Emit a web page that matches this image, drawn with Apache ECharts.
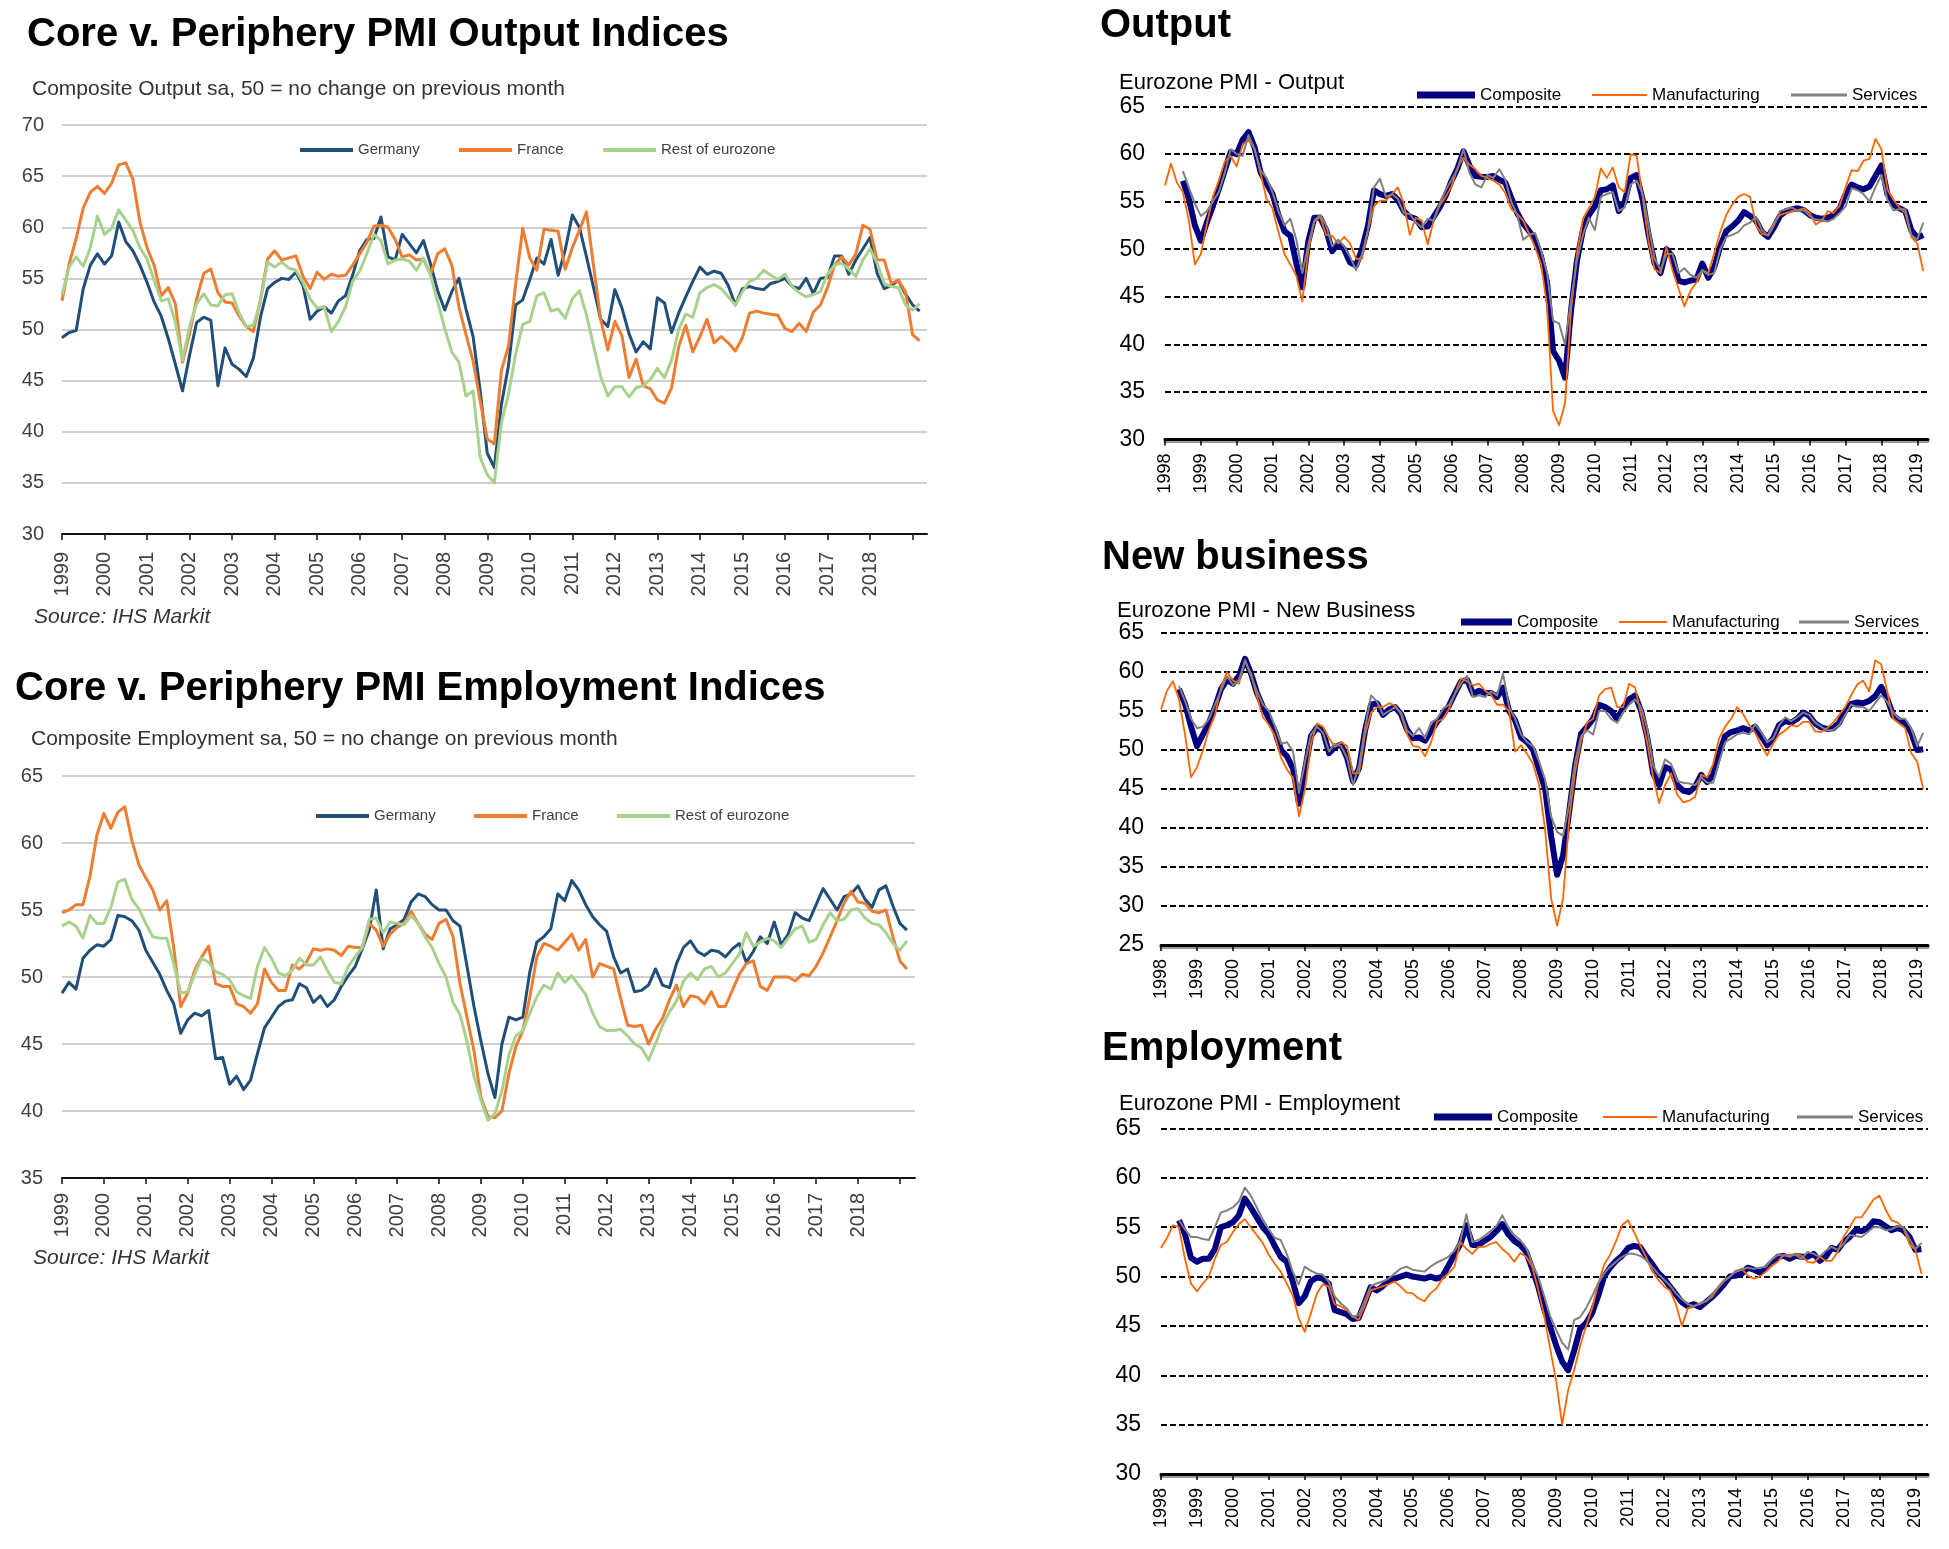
<!DOCTYPE html>
<html><head><meta charset="utf-8">
<script src="https://cdn.jsdelivr.net/npm/echarts@6/dist/echarts.min.js"></script>
<style>html,body{margin:0;padding:0;background:#fff}#c{width:1949px;height:1549px}</style>
</head><body><div id="c"></div>
<script>
// ---------- tick labels ----------
const CORE_TICKS = [1999,2000,2001,2002,2003,2004,2005,2006,2007,2008,2009,2010,2011,2012,2013,2014,2015,2016,2017,2018,2019];
const CORE_LABELS = [1999,2000,2001,2002,2003,2004,2005,2006,2007,2008,2009,2010,2011,2012,2013,2014,2015,2016,2017,2018];
const EZ_TICKS = [1998,1999,2000,2001,2002,2003,2004,2005,2006,2007,2008,2009,2010,2011,2012,2013,2014,2015,2016,2017,2018,2019];

// ---------- data: bimonthly readings (Jan, Mar, May, Jul, Sep, Nov) ----------
const CORE_START = 1999;   // left charts start Jan 1999
const EZ_START = 1998;     // right charts start Jan 1998

// Core v. Periphery – Composite Output
const GER_OUT = [
49.2,49.7,49.9,54.0,56.3,57.4, 56.4,57.2,60.5,58.6,57.7,56.3, 54.6,52.7,51.3,49.1,46.6,44.0,
47.5,50.7,51.2,50.9,44.5,48.2, 46.6,46.1,45.4,47.2,51.2,54.0, 54.6,55.0,54.9,55.6,54.3,51.0,
51.8,52.2,51.6,52.8,53.3,55.3, 57.7,58.8,58.9,61.0,57.1,56.8, 59.3,58.4,57.5,58.7,56.4,53.8,
51.9,53.7,55.0,52.0,49.3,44.0, 37.9,36.5,42.7,46.5,52.4,52.9, 54.9,57.0,56.4,58.8,55.3,57.8,
61.2,60.0,57.1,54.1,51.0,50.3, 53.9,52.1,49.6,47.8,48.8,48.1, 53.1,52.6,49.7,51.6,53.2,54.7,
56.1,55.4,55.7,55.5,54.3,52.4, 54.0,54.2,54.0,53.9,54.5,54.7, 55.0,54.2,54.0,55.0,53.5,55.0,
55.1,57.2,57.2,55.4,56.8,57.9, 59.0,55.5,54.0,54.3,54.8,53.5, 52.4,51.8];
const FRA_OUT = [
52.8,56.4,58.9,61.9,63.4,64.0, 63.3,64.3,66.1,66.3,64.7,60.5, 58.0,56.3,53.3,54.1,52.5,46.8,
49.6,53.0,55.5,55.9,53.6,52.7, 52.6,51.3,50.3,49.8,52.9,56.9, 57.7,56.8,57.0,57.2,55.2,54.0,
55.6,54.9,55.4,55.2,55.3,56.3, 57.4,58.5,60.1,60.2,60.0,58.8, 57.1,57.3,56.8,56.9,55.4,57.4,
57.9,56.3,52.2,49.5,46.9,43.0, 39.3,38.8,46.0,48.4,54.4,59.9, 57.0,55.8,59.8,59.7,59.6,55.9,
58.0,59.7,61.5,56.2,51.0,48.0, 50.8,49.4,45.3,47.1,44.5,44.2, 43.1,42.8,44.3,48.3,50.4,47.8,
49.3,51.0,48.7,49.3,48.7,47.9, 49.2,51.6,51.8,51.6,51.5,51.4, 50.1,49.8,50.6,49.8,51.7,52.4,
54.1,56.3,57.1,56.3,57.4,60.2, 59.8,56.8,56.8,54.5,54.8,53.7, 49.5,48.9];
const ROE_OUT = [
53.4,56.1,57.1,56.2,58.0,61.1, 59.3,59.9,61.7,60.7,59.7,58.0, 56.9,54.8,52.8,53.0,50.7,47.0,
50.3,52.5,53.5,52.4,52.3,53.4, 53.5,51.6,50.3,50.4,52.7,56.6, 56.1,56.6,56.0,55.8,54.6,53.0,
52.1,52.2,49.8,50.8,52.2,54.7, 55.7,57.4,59.3,58.7,56.4,56.8, 56.9,56.7,55.8,57.0,55.3,52.7,
50.1,47.8,46.8,43.5,44.0,37.5, 35.8,35.0,40.9,43.7,47.6,50.5, 50.8,53.3,53.6,51.8,52.0,51.1,
53.0,53.8,51.4,48.4,45.4,43.5, 44.4,44.4,43.4,44.3,44.5,45.1, 46.2,45.3,47.0,50.0,51.5,51.2,
53.6,54.1,54.4,54.0,53.2,52.4, 53.7,54.7,55.0,55.8,55.3,54.9, 55.4,54.2,53.6,53.2,53.4,53.7,
55.4,56.3,56.5,55.9,55.2,56.8, 57.9,56.5,54.5,54.2,54.1,52.4, 51.9,52.5];

// Core v. Periphery – Composite Employment
const GER_EMP = [
48.8,49.6,49.1,51.4,52.0,52.4, 52.3,52.8,54.6,54.5,54.2,53.5, 52.0,51.1,50.2,49.0,48.0,45.8,
46.8,47.3,47.1,47.5,43.9,44.0, 42.0,42.6,41.6,42.3,44.3,46.2, 47.0,47.8,48.2,48.3,49.5,49.2,
48.1,48.6,47.8,48.3,49.3,50.1, 50.8,52.1,53.5,56.5,52.1,53.6, 53.9,54.3,55.6,56.2,56.0,55.4,
55.0,55.0,54.2,53.8,50.8,47.8, 45.2,42.8,41.0,45.0,47.0,46.8, 47.0,50.4,52.6,53.0,53.6,56.2,
55.7,57.2,56.5,55.4,54.5,53.9, 53.4,51.5,50.3,50.6,48.9,49.0, 49.4,50.6,49.4,49.2,51.0,52.2,
52.7,51.9,51.6,52.0,51.9,51.5, 52.1,52.5,51.1,51.9,53.0,52.5, 54.1,52.4,53.2,54.8,54.4,54.2,
55.4,56.6,55.8,55.0,56.0,56.2, 56.8,55.8,55.2,56.5,56.8,55.3, 54.0,53.5];
const FRA_EMP = [
54.8,55.0,55.4,55.4,57.5,60.6, 62.2,61.1,62.3,62.7,60.2,58.4, 57.4,56.5,55.0,55.7,52.2,47.8,
48.8,50.5,51.5,52.3,49.5,49.3, 49.3,48.0,47.8,47.3,48.0,50.6, 49.6,49.0,49.0,50.9,50.6,51.1,
52.1,52.0,52.1,52.0,51.6,52.3, 52.2,52.2,54.0,53.5,52.3,53.2, 53.7,54.0,54.9,54.0,53.2,52.8,
54.0,54.3,53.0,49.5,47.0,44.5, 41.0,39.6,39.5,40.0,42.8,44.8, 46.0,48.5,51.5,52.5,52.3,52.0,
52.6,53.2,52.0,52.8,50.0,51.0, 50.8,50.6,48.4,46.4,46.3,46.4, 45.0,46.1,46.9,48.3,49.4,47.8,
48.6,48.5,48.0,48.9,47.8,47.8, 49.0,50.2,51.0,51.2,49.3,49.0, 50.0,50.0,50.0,49.7,50.2,50.1,
50.8,51.8,53.0,54.2,55.5,56.4, 55.6,55.5,54.9,54.8,55.0,53.0, 51.2,50.6];
const ROE_EMP = [
53.8,54.1,53.8,52.9,54.6,54.0, 54.0,55.2,57.1,57.3,55.8,55.1, 54.0,53.0,52.9,52.9,51.0,48.8,
48.9,50.2,51.4,51.1,50.4,50.2, 49.8,48.9,48.6,48.4,50.8,52.2, 51.4,50.3,50.1,50.5,51.4,50.9,
50.9,51.5,50.5,49.6,49.5,50.8, 51.5,52.2,54.3,54.4,53.3,54.1, 54.0,53.9,54.6,54.0,53.0,52.2,
51.0,50.0,48.1,47.2,45.2,42.6, 40.8,39.3,39.8,41.5,44.2,45.6, 46.0,47.3,48.5,49.4,49.1,50.3,
49.6,50.1,49.4,48.7,47.3,46.3, 46.0,46.0,46.1,45.6,45.0,44.7, 43.8,45.0,46.4,47.4,48.2,49.7,
50.3,49.8,50.6,50.8,50.0,50.3, 51.0,51.7,53.3,52.3,52.6,52.9, 52.7,52.2,52.9,53.6,53.8,52.6,
52.8,53.9,54.8,54.2,54.3,55.0, 55.1,54.4,54.0,53.9,53.3,52.5, 52.0,52.7];

// Eurozone PMI – Output
const EZ_OUT_COMP = [
null,null,null,57.2,55.3,52.5, 50.9,52.8,54.5,56.3,58.3,60.2, 60.0,61.5,62.3,60.7,58.1,56.9,
55.8,53.6,51.9,51.4,48.5,46.0, 50.8,53.3,53.3,52.0,49.8,50.6, 50.0,48.6,48.3,50.0,52.5,56.2,
55.8,55.6,55.8,55.2,54.0,53.4, 53.2,52.3,52.4,53.4,54.4,55.6, 57.2,58.5,60.3,58.8,57.7,57.6,
57.6,57.7,57.3,57.0,55.4,53.8, 52.7,51.9,51.0,49.2,46.5,39.3, 38.3,36.5,43.5,48.8,52.0,53.6,
54.5,56.2,56.3,56.7,54.0,55.0, 57.5,57.8,55.2,51.5,48.5,47.5, 50.0,49.2,46.7,46.5,46.7,46.8,
48.5,47.0,48.1,50.3,51.9,52.4, 53.0,53.9,53.5,53.0,51.8,51.3, 52.3,53.5,54.0,54.2,54.3,54.1,
53.6,53.3,53.2,53.3,53.6,54.3, 55.8,56.8,56.5,56.3,56.6,57.7, 58.8,55.8,54.7,54.3,54.0,52.0,
51.2,51.5];
const EZ_OUT_MAN = [
56.7,59.0,57.0,56.0,53.0,48.4, 49.5,52.6,55.5,57.2,59.2,59.8, 58.7,61.0,61.5,60.6,58.0,55.3,
54.3,51.8,49.5,48.4,47.2,44.5, 49.8,52.9,53.4,51.5,51.4,50.6, 51.3,50.6,49.0,49.0,52.0,54.5,
55.1,55.1,55.8,56.5,54.8,51.5, 53.3,53.0,50.5,53.0,54.6,55.5, 56.6,58.6,59.6,58.9,58.4,57.7,
57.5,57.2,56.8,55.9,54.2,53.7, 53.0,51.6,50.2,48.4,44.0,33.0, 31.5,33.8,43.5,49.5,53.2,54.3,
55.5,58.5,57.5,58.6,56.5,56.0, 60.0,59.8,55.5,50.8,47.9,47.5, 50.2,47.8,45.9,44.0,45.6,46.5,
47.8,47.5,49.6,51.8,53.6,54.7, 55.5,55.8,55.5,52.5,51.6,51.5, 52.7,53.6,53.8,54.0,54.1,54.3,
53.8,52.6,53.0,54.0,53.8,54.6, 56.5,58.3,58.2,59.3,59.5,61.6, 60.5,56.3,55.2,54.4,53.8,51.3,
50.6,47.7];
const EZ_OUT_SRV = [
null,null,null,58.2,56.5,54.8, 53.5,54.0,55.0,56.0,58.0,60.5, 60.0,59.8,62.0,60.5,58.3,57.5,
56.0,54.0,52.5,53.2,51.0,47.5, 50.5,53.0,53.6,52.5,50.3,51.0, 50.3,49.2,47.8,49.5,52.0,56.5,
57.4,55.5,55.8,55.3,53.8,53.7, 52.8,52.3,53.2,53.0,54.8,56.2, 57.3,58.4,60.5,58.0,56.8,56.5,
57.8,57.5,58.4,57.3,55.0,53.6, 51.0,51.5,51.7,49.8,47.5,42.5, 42.2,40.0,44.5,48.8,51.5,53.3,
52.0,55.5,55.8,56.0,54.0,54.4, 56.8,57.2,55.8,52.5,49.0,47.8, 49.5,49.5,47.5,48.0,47.3,47.0,
47.8,47.3,47.5,50.0,51.3,51.5, 51.8,52.5,52.8,53.4,52.0,51.4, 52.5,54.0,54.2,54.4,54.0,54.1,
53.5,53.1,53.1,52.9,53.2,53.8, 54.5,56.4,56.2,55.8,55.0,56.5, 57.8,55.2,54.1,54.2,54.2,51.5,
51.0,52.8];

// Eurozone PMI – New Business
const EZ_NB_COMP = [
null,null,null,57.8,55.9,53.0, 50.5,52.0,53.5,55.5,57.8,59.0, 58.5,59.5,61.7,59.8,57.3,55.5,
54.0,52.4,50.0,49.2,47.6,43.1, 47.5,51.8,52.9,52.4,49.6,50.4, 50.7,49.0,46.0,47.7,52.5,55.8,
56.0,54.5,55.2,55.5,54.6,52.6, 51.5,51.6,51.2,52.5,53.6,54.5, 55.7,57.3,58.8,59.0,57.2,57.6,
57.3,57.3,56.8,58.0,55.0,53.8, 51.6,51.0,50.0,47.5,45.0,39.0, 34.0,36.5,42.0,48.0,52.1,53.0,
54.0,55.8,55.5,55.0,54.0,55.4, 56.5,57.0,55.0,51.7,47.0,45.5, 47.8,47.5,45.5,44.8,44.6,45.3,
46.8,45.9,46.8,49.5,51.8,52.3, 52.5,52.8,52.5,53.0,51.8,50.6, 51.5,53.2,53.7,53.5,54.0,54.8,
54.4,53.4,52.9,52.7,52.8,53.5, 55.0,55.9,56.1,56.0,56.3,56.9, 58.1,56.6,54.4,53.8,53.5,52.2,
50.0,50.1];
const EZ_NB_MAN = [
55.2,57.6,58.8,56.5,52.0,46.5, 47.8,50.0,52.6,54.5,58.0,60.0, 58.9,58.5,61.5,59.8,56.8,54.2,
53.2,51.8,49.0,47.5,46.4,41.5, 45.0,50.8,53.4,53.0,51.5,50.4, 51.0,50.5,47.0,47.0,52.0,54.8,
55.5,55.5,56.0,55.7,54.6,52.0, 50.5,50.4,49.2,51.0,53.6,54.0, 55.3,57.3,59.2,58.8,58.3,58.5,
57.6,57.1,55.8,55.8,55.0,49.8, 50.6,49.5,48.2,45.5,39.8,31.0, 27.5,31.0,41.0,47.2,51.2,53.5,
54.0,57.0,57.8,58.0,55.5,55.5, 58.5,58.0,54.5,51.0,46.5,43.2, 45.5,47.0,44.3,43.3,43.5,44.0,
46.8,46.5,48.2,51.5,53.0,54.0, 55.5,54.6,53.2,52.2,50.6,49.3, 50.8,52.0,52.5,53.2,53.0,53.6,
53.6,52.4,52.3,52.8,53.5,54.5, 55.5,57.0,58.4,58.9,57.5,61.5, 61.0,57.5,54.0,53.4,52.8,49.6,
48.5,45.0];
const EZ_NB_SRV = [
null,null,null,58.2,56.3,54.0, 52.8,53.0,54.0,55.8,57.6,59.5, 58.3,59.0,61.5,59.5,57.5,55.8,
55.0,53.0,50.8,51.0,49.8,44.5, 48.5,52.0,53.0,52.2,49.8,50.8, 50.5,49.0,45.5,48.0,52.8,57.0,
56.2,54.5,55.0,55.5,54.8,52.5, 51.8,52.8,51.5,53.5,54.0,55.3, 55.8,57.2,58.5,59.5,56.8,57.0,
56.8,57.5,57.0,59.8,55.5,54.0, 52.0,51.0,50.5,48.5,46.2,41.5, 39.5,39.0,43.0,48.5,51.8,52.5,
52.0,55.0,55.0,54.0,53.5,54.8, 55.8,56.5,55.5,52.8,48.0,46.5, 48.8,48.2,46.0,45.8,45.7,45.5,
46.5,45.8,45.8,48.5,51.0,51.5, 52.0,52.2,52.0,53.3,52.3,51.0, 51.5,53.2,54.2,53.7,54.2,54.8,
54.5,53.5,53.0,52.5,52.6,53.2, 54.5,55.8,55.5,55.5,55.0,56.0, 57.0,56.2,54.8,54.0,54.0,52.8,
50.5,52.2];

// Eurozone PMI – Employment
const EZ_EMP_COMP = [
null,null,null,55.7,54.3,51.9, 51.5,51.8,51.8,52.8,55.0,55.2, 55.5,56.2,57.9,57.0,56.0,55.0,
54.3,53.1,52.0,51.5,49.5,47.3, 48.0,49.5,49.9,49.8,49.3,46.6, 46.4,46.2,45.7,45.8,47.3,48.9,
48.6,49.0,49.6,49.8,50.0,50.2, 50.0,49.9,49.8,50.0,49.8,50.0, 51.1,52.2,53.3,55.2,53.2,53.2,
53.6,54.0,54.6,55.3,54.3,53.6, 53.2,52.5,50.8,49.0,46.7,44.9, 43.0,41.4,40.5,42.5,44.7,45.3,
46.3,48.0,50.0,50.9,51.6,52.1, 52.9,53.1,53.0,52.1,51.3,50.4, 49.8,49.0,48.2,47.4,47.0,47.2,
46.9,47.4,47.9,48.5,49.2,50.0, 50.1,50.3,50.9,50.7,50.4,50.8, 51.4,52.0,52.1,51.8,52.1,52.0,
52.0,52.3,51.6,52.0,52.9,52.7, 53.5,54.0,54.7,54.6,54.9,55.6, 55.5,55.1,54.7,54.9,54.7,54.0,
52.7,52.8];
const EZ_EMP_MAN = [
52.9,53.9,55.2,55.0,51.8,49.3, 48.5,49.3,50.0,51.8,53.2,53.5, 54.5,55.3,55.8,55.0,54.2,53.4,
52.2,51.3,50.5,49.3,48.1,45.8, 44.4,46.2,48.2,49.2,49.0,47.2, 47.0,46.6,46.0,45.6,47.0,48.6,
48.8,49.0,49.2,49.5,49.0,48.4, 48.3,47.8,47.5,48.3,48.8,49.8, 50.3,51.0,53.5,52.8,52.3,53.0,
53.0,53.3,53.5,52.8,52.3,51.5, 52.4,52.0,51.0,48.7,46.0,42.7, 39.4,35.0,38.5,40.5,43.0,45.0,
46.8,49.2,51.2,52.2,53.6,55.2, 55.7,54.5,53.2,52.0,50.6,49.7, 49.0,48.6,47.2,45.0,46.8,47.0,
47.2,47.5,47.9,48.8,49.5,50.0, 50.5,50.8,50.1,49.8,50.0,50.5, 51.1,51.5,52.2,52.0,52.3,52.1,
51.5,51.4,52.0,51.6,51.6,52.5, 54.0,55.0,56.0,56.0,56.9,57.8, 58.2,56.8,55.7,55.5,54.9,53.3,
52.7,50.3];
const EZ_EMP_SRV = [
null,null,null,55.7,54.8,54.0, 54.0,53.8,53.7,55.0,56.5,56.7, 57.0,57.6,59.0,58.2,57.0,55.8,
54.8,53.9,53.7,52.3,50.5,49.2, 51.0,50.6,50.3,50.2,49.5,48.0, 47.3,46.8,45.9,46.1,47.5,49.0,
49.3,49.5,49.8,50.3,50.8,51.0, 50.7,50.6,50.5,51.0,51.4,51.7, 52.0,52.6,53.6,56.3,53.5,53.7,
54.1,54.6,55.1,56.2,55.0,54.2, 53.7,52.9,51.3,50.0,48.0,46.0, 44.6,43.3,42.6,45.6,45.9,46.8,
48.0,49.3,50.3,51.0,51.5,52.0, 52.3,52.3,52.1,51.7,51.0,50.3, 49.7,49.1,48.3,47.7,47.2,47.0,
47.3,47.5,48.1,48.9,49.6,50.0, 50.6,50.7,50.9,50.8,50.9,51.0, 51.7,52.2,52.1,52.2,52.2,51.8,
52.5,52.3,52.0,52.6,53.0,52.7, 53.3,54.2,54.1,54.0,54.5,55.0, 55.0,54.7,54.8,55.1,55.0,53.8,
52.8,53.4];

// ---------- rendering ----------
const FONT = '"Liberation Sans", Arial, Helvetica, sans-serif';
const C_GER = '#1F4E79', C_FRA = '#ED7D31', C_ROE = '#A9D18E';
const C_COMP = '#000080', C_MAN = '#FF6600', C_SRV = '#808080';

function pts(arr, start) { return arr.map((v, i) => [start + i / 6, v]); }
function line(name, arr, start, idx, color, width, z) {
  return { name, type: 'line', xAxisIndex: idx, yAxisIndex: idx, data: pts(arr, start),
    showSymbol: false, symbol: 'none', color, lineStyle: { color, width, join: 'round' },
    z, animation: false, silent: true, connectNulls: false };
}
function title(text, left, top, size, opts) {
  return Object.assign({ text, left, top, padding: 0,
    textStyle: { fontFamily: FONT, fontSize: size, fontWeight: 'bold', color: '#000' } }, opts || {});
}
function sub(text, left, top, size, color, style) {
  return { text, left, top, padding: 0,
    textStyle: { fontFamily: FONT, fontSize: size, fontWeight: 'normal', fontStyle: style || 'normal', color } };
}
function leg(name, x, cy, w, h, color, fs, tc) {
  return { data: [name], left: x, top: cy - fs / 2, itemWidth: w, itemHeight: h, icon: 'rect',
    itemGap: 0, padding: 0, selectedMode: false, itemStyle: { color, borderWidth: 0 },
    textStyle: { fontFamily: FONT, fontSize: fs, color: tc } };
}
function coreX(gi, max, margin) {
  return { type: 'value', gridIndex: gi, min: 1999, max,
    axisLine: { show: true, onZero: false, lineStyle: { color: '#111', width: 2 } },
    axisTick: { show: true, length: 6, customValues: CORE_TICKS, lineStyle: { color: '#111', width: 1.5 } },
    axisLabel: { customValues: CORE_LABELS, rotate: 90, margin, fontSize: 20, fontFamily: FONT, color: '#404040',
      formatter: v => String(v) },
    splitLine: { show: false } };
}
function coreY(gi, min, max, margin) {
  return { type: 'value', gridIndex: gi, min, max, interval: 5,
    axisLine: { show: false }, axisTick: { show: false },
    axisLabel: { margin, fontSize: 20, fontFamily: FONT, color: '#404040' },
    splitLine: { show: true, lineStyle: { color: '#c0c0c0', width: 1.6 } } };
}
function ezX(gi, max) {
  return { type: 'value', gridIndex: gi, min: 1998, max,
    axisLine: { show: true, onZero: false, lineStyle: { color: '#000', width: 3, shadowColor: '#999', shadowOffsetY: 2 } },
    axisTick: { show: true, length: 6, customValues: EZ_TICKS, lineStyle: { color: '#000', width: 1.5 } },
    axisLabel: { customValues: EZ_TICKS, rotate: 90, margin: 14, fontSize: 18, fontFamily: FONT, color: '#000',
      formatter: v => String(v) },
    splitLine: { show: false } };
}
function ezY(gi, min, max, margin) {
  return { type: 'value', gridIndex: gi, min, max, interval: 5,
    axisLine: { show: false }, axisTick: { show: false },
    axisLabel: { margin, fontSize: 23, fontFamily: FONT, color: '#000' },
    splitLine: { show: true, lineStyle: { color: '#000', width: 2, type: [6, 3] } } };
}

const option = {
  backgroundColor: '#fff',
  animation: false,
  title: [
    title('Core v. Periphery PMI Output Indices', 27, 15, 40),
    sub('Composite Output sa, 50 = no change on previous month', 32, 79, 21, '#333'),
    sub('Source: IHS Markit', 34, 607, 21, '#333', 'italic'),
    title('Core v. Periphery PMI Employment Indices', 15, 669, 40),
    sub('Composite Employment sa, 50 = no change on previous month', 31, 729, 21, '#333'),
    sub('Source: IHS Markit', 33, 1248, 21, '#333', 'italic'),
    title('Output', 1100, 6, 40),
    sub('Eurozone PMI - Output', 1119, 72, 22, '#000'),
    title('New business', 1102, 538, 40),
    sub('Eurozone PMI - New Business', 1117, 600, 22, '#000'),
    title('Employment', 1102, 1029, 40),
    sub('Eurozone PMI - Employment', 1119, 1093, 22, '#000')
  ],
  legend: [
    leg('Germany', 300, 150, 53, 4, C_GER, 15, '#404040'),
    leg('France', 459, 150, 53, 4, C_FRA, 15, '#404040'),
    leg('Rest of eurozone', 603, 150, 53, 4, C_ROE, 15, '#404040'),
    leg('Germany', 316, 816, 53, 4, C_GER, 15, '#404040'),
    leg('France', 474, 816, 53, 4, C_FRA, 15, '#404040'),
    leg('Rest of eurozone', 617, 816, 53, 4, C_ROE, 15, '#404040'),
    leg('Composite', 1417, 95, 58, 7, C_COMP, 17, '#000'),
    leg('Manufacturing', 1592, 95, 55, 2, C_MAN, 17, '#000'),
    leg('Services', 1791, 95, 56, 3, C_SRV, 17, '#000'),
    leg('Composite', 1461, 622, 51, 7, C_COMP, 17, '#000'),
    leg('Manufacturing', 1619, 622, 48, 2, C_MAN, 17, '#000'),
    leg('Services', 1799, 622, 50, 3, C_SRV, 17, '#000'),
    leg('Composite', 1434, 1117, 58, 7, C_COMP, 17, '#000'),
    leg('Manufacturing', 1603, 1117, 54, 2, C_MAN, 17, '#000'),
    leg('Services', 1797, 1117, 56, 3, C_SRV, 17, '#000')
  ],
  grid: [
    { left: 62, top: 125, width: 865, height: 409 },
    { left: 62, top: 776, width: 853, height: 402 },
    { left: 1165, top: 106.5, width: 763, height: 333 },
    { left: 1161, top: 633, width: 767, height: 312 },
    { left: 1161, top: 1128.5, width: 767, height: 345.5 }
  ],
  xAxis: [ coreX(0, 2019.34, 18), coreX(1, 2019.36, 15), ezX(2, 2019.3), ezX(3, 2019.3), ezX(4, 2019.35) ],
  yAxis: [ coreY(0, 30, 70, 18), coreY(1, 35, 65, 19), ezY(2, 30, 65, 20), ezY(3, 25, 65, 17), ezY(4, 30, 65, 20) ],
  series: [
    line('Germany', GER_OUT, CORE_START, 0, C_GER, 3, 2),
    line('France', FRA_OUT, CORE_START, 0, C_FRA, 3, 3),
    line('Rest of eurozone', ROE_OUT, CORE_START, 0, C_ROE, 3, 4),
    line('Germany', GER_EMP, CORE_START, 1, C_GER, 3, 2),
    line('France', FRA_EMP, CORE_START, 1, C_FRA, 3, 3),
    line('Rest of eurozone', ROE_EMP, CORE_START, 1, C_ROE, 3, 4),
    line('Composite', EZ_OUT_COMP, EZ_START, 2, C_COMP, 6, 2),
    line('Manufacturing', EZ_OUT_MAN, EZ_START, 2, C_MAN, 1.8, 3),
    line('Services', EZ_OUT_SRV, EZ_START, 2, C_SRV, 2, 4),
    line('Composite', EZ_NB_COMP, EZ_START, 3, C_COMP, 6, 2),
    line('Manufacturing', EZ_NB_MAN, EZ_START, 3, C_MAN, 1.8, 3),
    line('Services', EZ_NB_SRV, EZ_START, 3, C_SRV, 2, 4),
    line('Composite', EZ_EMP_COMP, EZ_START, 4, C_COMP, 6, 2),
    line('Manufacturing', EZ_EMP_MAN, EZ_START, 4, C_MAN, 1.8, 3),
    line('Services', EZ_EMP_SRV, EZ_START, 4, C_SRV, 2, 4)
  ]
};
const chart = echarts.init(document.getElementById('c'), null, { renderer: 'canvas', width: 1949, height: 1549 });
chart.setOption(option);
</script>
</body></html>
